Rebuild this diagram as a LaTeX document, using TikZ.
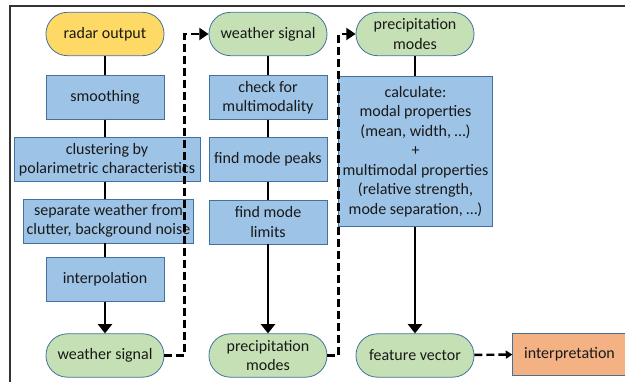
\documentclass[tikz,border=0pt]{standalone}
\usepackage{fontspec}
\setmainfont{Carlito}
\usetikzlibrary{arrows.meta}
\definecolor{amarillo}{HTML}{FFD966}
\definecolor{verde}{HTML}{C5E0B4}
\definecolor{azul}{HTML}{9DC3E6}
\definecolor{naranja}{HTML}{F4B183}
\definecolor{borde}{HTML}{41719C}

\begin{document}
\begin{tikzpicture}[x=0.75pt,y=-0.75pt,
    every node/.style={font=\fontsize{12}{14.6}\selectfont, text=black!90, align=center, inner sep=0pt},
    caja/.style={draw=borde, line width=0.6pt, fill=azul, minimum width=88.5pt, minimum height=32.5pt},
    inicio/.style={caja, rounded corners=16pt, fill=verde},
    linea/.style={line width=2.2pt},
    flecha/.style={linea, -{Triangle[length=7pt,width=10.5pt]}},
    salto/.style={line width=1.8pt, dash pattern=on 6pt off 3pt, -{Triangle[length=7pt,width=9pt]}}]
    % Marco
    \useasboundingbox (0,0) rectangle (625,382);
    \draw[black!80, line width=0.8pt] (10,382) -- (10,6) -- (625,6);

    % Columna 1: preprocesado
    \node[inicio, fill=amarillo] (radar) at (105,34) {radar output};
    \node[caja] (suav) at (105,97.5) {smoothing};
    \node[caja, minimum width=139.5pt, minimum height=33pt] (clus) at (107,159.5) {clustering by\\polarimetric characteristics};
    \node[caja, minimum width=127pt, minimum height=33pt] (sep) at (108.5,221) {separate weather from\\clutter, background noise};
    \node[caja] (interp) at (105,279.5) {interpolation};
    \node[inicio] (ws1) at (105,355.5) {weather signal};

    % Columna 2: modos
    \node[inicio] (ws2) at (268,34) {weather signal};
    \node[caja] (multi) at (268,97.5) {check for\\multimodality};
    \node[caja, minimum height=33pt] (picos) at (268,159.5) {find mode peaks};
    \node[caja, minimum height=33pt] (lim) at (268,222) {find mode\\limits};
    \node[inicio] (pm1) at (268,355.5) {precipitation\\modes};

    % Columna 3: propiedades
    \node[inicio] (pm2) at (415,34) {precipitation\\modes};
    \node[caja, minimum width=116pt, minimum height=113pt] (calc) at (415.5,151.5)
        {calculate:\\modal properties\\(mean, width, …)\\+\\multimodal properties\\(relative strength,\\mode separation, …)};
    \node[inicio] (fv) at (415,355.5) {feature vector};
    \node[caja, fill=naranja, minimum width=85pt, minimum height=31.5pt] (interpr) at (569.5,354) {interpretation};

    % Conexiones
    \draw[linea] (radar) -- (suav);
    \draw[linea] (suav) -- (clus.north -| suav);
    \draw[linea] (clus.south -| suav) -- (sep.north -| suav);
    \draw[linea] (sep.south -| interp) -- (interp);
    \draw[flecha] (interp) -- (ws1);

    \draw[linea] (ws2) -- (multi);
    \draw[linea] (multi) -- (picos);
    \draw[linea] (picos) -- (lim);
    \draw[flecha] (lim) -- (pm1);

    \draw[linea] (pm2) -- (calc.north -| pm2);
    \draw[flecha] (calc.south -| fv) -- (fv);

    % Saltos entre columnas
    \draw[salto] (ws1.east) -- ++(20,0) |- (ws2.west);
    \draw[salto] (pm1.east) -- ++(11,0) |- (pm2.west);
    \draw[salto, -{Triangle[length=5pt,width=6pt]}] (fv) -- (interpr);
\end{tikzpicture}
\end{document}
